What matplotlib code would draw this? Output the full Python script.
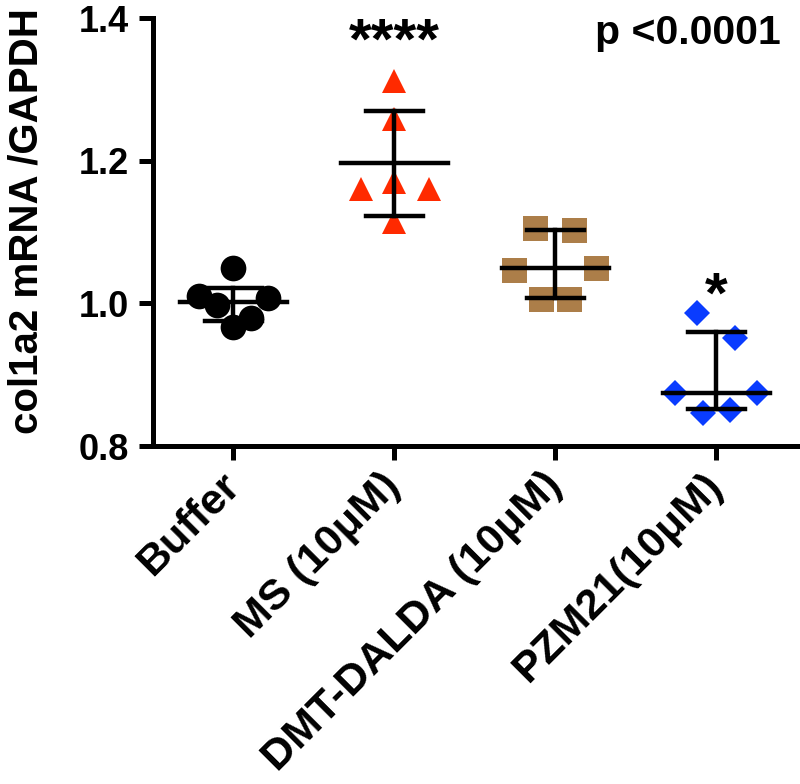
import numpy as np
import matplotlib
matplotlib.use('Agg')
import matplotlib.pyplot as plt

plt.rcParams['font.family'] = ['Liberation Sans', 'DejaVu Sans']
plt.rcParams['font.weight'] = 'bold'

# Grupos
grupos = ['Buffer', 'MS (10μM)', 'DMT-DALDA (10μM)', 'PZM21(10μM)']

# Valores individuales
buffer_vals = [1.049, 1.011, 0.998, 1.007, 0.979, 0.967]
ms_vals = [1.312, 1.258, 1.170, 1.161, 1.161, 1.114]
dmt_vals = [1.105, 1.103, 1.047, 1.050, 1.006, 1.006]
pzm_vals = [0.987, 0.952, 0.874, 0.875, 0.846, 0.850]

# Desplazamiento horizontal de cada punto (dispersión)
buffer_dx = [0.0, -0.214, -0.102, 0.217, 0.112, 0.0]
ms_dx = [0.0, 0.0, 0.0, -0.209, 0.214, 0.0]
dmt_dx = [-0.125, 0.117, -0.256, 0.253, -0.086, 0.084]
pzm_dx = [-0.117, 0.117, -0.256, 0.253, -0.084, 0.084]

# Línea central y barras
centro = [1.002, 1.197, 1.049, 0.874]
inferior = [0.976, 1.123, 1.007, 0.852]
superior = [1.022, 1.270, 1.103, 0.960]

# Significancia
estrellas = ['', '****', '', '*']
estrella_y = [None, 1.327, None, 0.970]

valores = [buffer_vals, ms_vals, dmt_vals, pzm_vals]
desplaz = [buffer_dx, ms_dx, dmt_dx, pzm_dx]
marcadores = ['o', '^', 's', 'D']
colores = ['black', '#FF2A00', '#A8773F', '#0A3CFF']
tamanos = [18.5, 17.5, 18, 13.5]

fig = plt.figure(figsize=(8, 7.84), dpi=100)
ax = fig.add_axes([0.191, 0.431, 0.805, 0.546])

for i in range(len(grupos)):
    x = i + np.array(desplaz[i])
    ax.plot(x, valores[i], linestyle='none', marker=marcadores[i],
            markersize=tamanos[i], color=colores[i], markeredgewidth=0,
            alpha=0.95 if i == 2 else 1, zorder=2)

    # Línea central y barras
    ax.plot([i - 0.333, i + 0.333], [centro[i], centro[i]], color='black', lw=3.2, zorder=3)
    ax.plot([i, i], [inferior[i], superior[i]], color='black', lw=3.2, zorder=3)
    ax.plot([i - 0.176, i + 0.176], [inferior[i], inferior[i]], color='black', lw=3.2, zorder=3)
    ax.plot([i - 0.176, i + 0.176], [superior[i], superior[i]], color='black', lw=3.2, zorder=3)

    if estrellas[i]:
        ax.text(i, estrella_y[i], estrellas[i], ha='center', va='bottom',
                fontsize=42, fontweight='bold')

ax.text(3.40, 1.405, 'p <0.0001', ha='right', va='top', fontsize=29.5, fontweight='bold')

ax.set_xlim(-0.5, 3.5)
ax.set_ylim(0.8, 1.4)
ax.set_yticks([0.8, 1.0, 1.2, 1.4])
ax.set_yticklabels(['0.8', '1.0', '1.2', '1.4'])
ax.set_xticks(range(len(grupos)))
ax.set_xticklabels(grupos, rotation=45, ha='right', va='center', rotation_mode='anchor')

ax.spines['top'].set_visible(False)
ax.spines['right'].set_visible(False)
ax.spines['left'].set_linewidth(3.6)
ax.spines['bottom'].set_linewidth(3.6)
ax.spines['left'].set_capstyle('projecting')
ax.spines['bottom'].set_capstyle('projecting')
ax.tick_params(axis='both', width=3.6, length=10, labelsize=26)
ax.tick_params(axis='x', pad=14, labelsize=31)
ax.tick_params(axis='y', pad=7)
for lab in ax.get_xticklabels() + ax.get_yticklabels():
    lab.set_fontweight('bold')

ax.set_ylabel('col1a2 mRNA /GAPDH', fontsize=29, fontweight='bold')
ax.yaxis.set_label_coords(-0.166, 0.526)
for art in ax.lines:
    art.set_clip_on(False)

fig.savefig('out.png', dpi=100)
